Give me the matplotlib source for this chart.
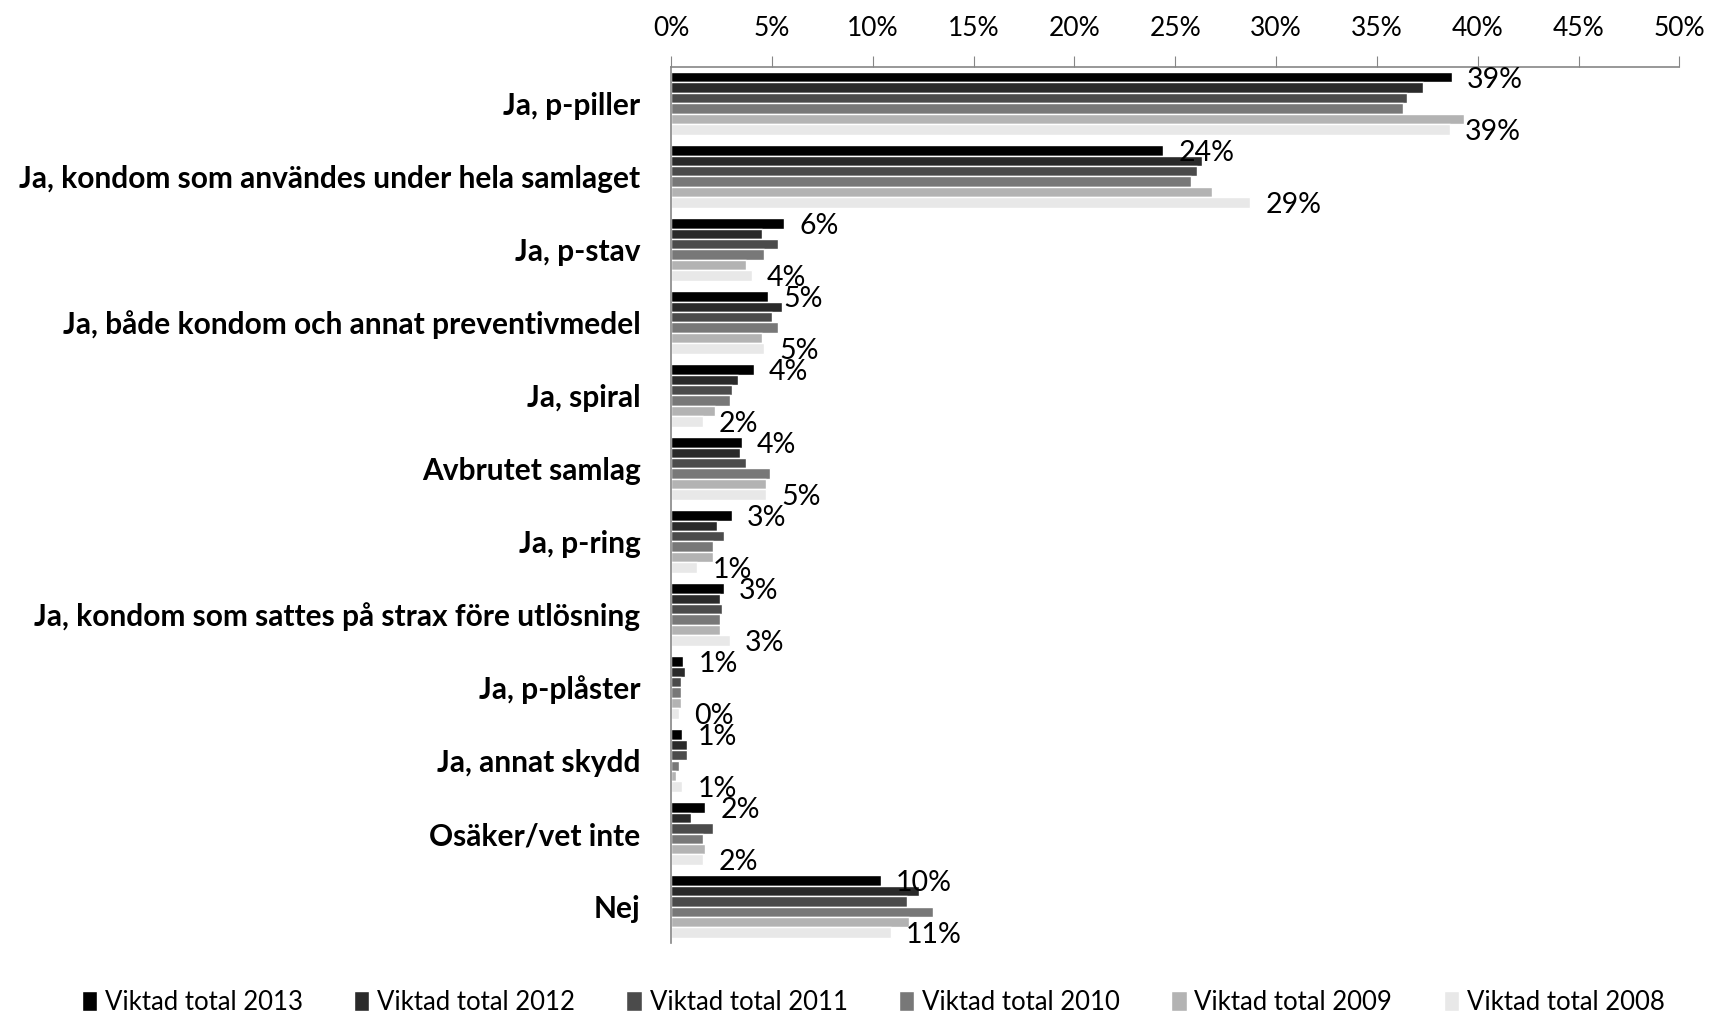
import numpy as np
import matplotlib
matplotlib.use('Agg')
import matplotlib.pyplot as plt
from matplotlib.ticker import PercentFormatter

plt.rcParams['font.family'] = ['Lato', 'DejaVu Sans']

# kategorier (uppifrån och ner)
categories = ['Ja, p-piller',
              'Ja, kondom som användes under hela samlaget',
              'Ja, p-stav',
              'Ja, både kondom och annat preventivmedel',
              'Ja, spiral',
              'Avbrutet samlag',
              'Ja, p-ring',
              'Ja, kondom som sattes på strax före utlösning',
              'Ja, p-plåster',
              'Ja, annat skydd',
              'Osäker/vet inte',
              'Nej']

series_names = ['Viktad total 2013', 'Viktad total 2012', 'Viktad total 2011',
                'Viktad total 2010', 'Viktad total 2009', 'Viktad total 2008']

# andelar i procent
v2013 = [38.7, 24.4, 5.6, 4.8, 4.1, 3.5, 3.0, 2.6, 0.6, 0.55, 1.7, 10.4]
v2012 = [37.3, 26.3, 4.5, 5.5, 3.3, 3.4, 2.3, 2.4, 0.7, 0.8, 1.0, 12.3]
v2011 = [36.5, 26.1, 5.3, 5.0, 3.0, 3.7, 2.6, 2.5, 0.5, 0.8, 2.1, 11.7]
v2010 = [36.3, 25.8, 4.6, 5.3, 2.9, 4.9, 2.1, 2.4, 0.5, 0.4, 1.6, 13.0]
v2009 = [39.3, 26.8, 3.7, 4.5, 2.2, 4.7, 2.1, 2.4, 0.5, 0.25, 1.7, 11.8]
v2008 = [38.6, 28.7, 4.0, 4.6, 1.6, 4.7, 1.3, 2.9, 0.4, 0.55, 1.6, 10.9]

values = [v2013, v2012, v2011, v2010, v2009, v2008]
colors = ['#000000', '#2a2a2a', '#4b4b4b', '#787878', '#b3b3b3', '#e8e8e8']

fig = plt.figure(figsize=(17.12, 10.14), dpi=100)
ax = fig.add_axes([0.392, 0.070, 0.589, 0.864])

y = np.arange(len(categories))
n = len(values)
h = 0.86 / n
for i, vals in enumerate(values):
    pos = y - 0.43 + h * (i + 0.5)
    ax.barh(pos, vals, height=h, color=colors[i], edgecolor='white',
            linewidth=1.0, label=series_names[i])
    # etiketter bara för 2013 och 2008
    if i == 0 or i == n - 1:
        for p, v in zip(pos, vals):
            ax.annotate('%d%%' % int(v + 0.5), (v, p), xytext=(11, -2),
                        textcoords='offset points', ha='left', va='center',
                        fontsize=20.5)

ax.set_ylim(len(categories) - 0.5, -0.5)
ax.set_xlim(0, 50)
ax.set_yticks(y)
ax.set_yticklabels(categories, fontsize=21.5, fontweight='bold')
ax.tick_params(axis='y', length=0, pad=22)

ax.xaxis.tick_top()
ax.set_xticks(np.arange(0, 51, 5))
ax.xaxis.set_major_formatter(PercentFormatter(decimals=0))
ax.tick_params(axis='x', direction='out', length=8, color='#868686',
               labelsize=19, pad=11)

for s in ['right', 'bottom']:
    ax.spines[s].set_visible(False)
ax.spines['top'].set_color('#868686')
ax.spines['left'].set_color('#868686')
ax.spines['top'].set_linewidth(1.2)
ax.spines['left'].set_linewidth(1.2)

fig.legend(loc='lower center', ncol=6, frameon=False, fontsize=18.5,
           bbox_to_anchor=(0.51, -0.024), handlelength=0.6, handleheight=0.8,
           handletextpad=0.3, columnspacing=2.0)

fig.savefig('out.png', dpi=100)
